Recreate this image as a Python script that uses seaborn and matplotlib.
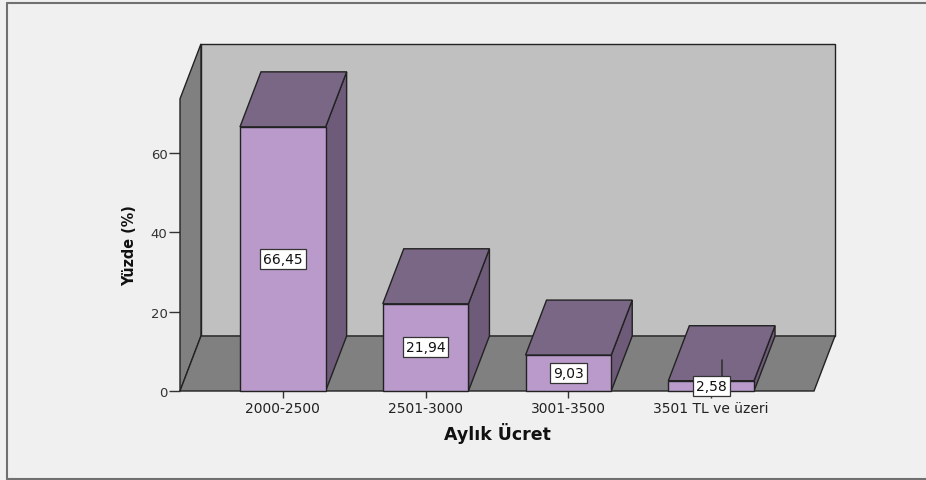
import matplotlib
matplotlib.use("Agg")
import matplotlib.pyplot as plt
from matplotlib.patches import Polygon
from matplotlib.lines import Line2D
import seaborn as sns
import pandas as pd

# Monthly wage groups and their share of respondents (%)
categories = ["2000-2500", "2501-3000", "3001-3500", "3501 TL ve üzeri"]
percentages = [66.45, 21.94, 9.03, 2.58]
value_labels = ["66,45", "21,94", "9,03", "2,58"]
y_ticks = [0, 20, 40, 60]

df = pd.DataFrame({"Aylık Ücret": categories, "Yüzde": percentages})

sns.set_theme(style="white")
plt.rcParams["font.family"] = ["DejaVu Sans"]

BG = "#f0f0f0"
FRONT = "#b99aca"
TOP = "#7a6786"
SIDE = "#6e5a79"
WALL_BACK = "#c0c0c0"
WALL_FLOOR = "#808080"
EDGE = "#222222"

fig = plt.figure(figsize=(9.26, 4.81), dpi=100, facecolor=BG)
ax = fig.add_axes([180 / 926, (481 - 392) / 481, 655 / 926, 348 / 481])
ax.set_facecolor(BG)

# pseudo-3D depth offset (data units)
ddx, ddy = 0.147, 13.84
x0, x1 = -0.72, 3.72
wall_top = 73.5

# walls and floor
back = Polygon([(x0 + ddx, ddy), (x1 + ddx, ddy), (x1 + ddx, wall_top + ddy),
                (x0 + ddx, wall_top + ddy)], closed=True, fc=WALL_BACK, ec=EDGE, lw=1.0, zorder=0.5)
left = Polygon([(x0, 0), (x0 + ddx, ddy), (x0 + ddx, wall_top + ddy), (x0, wall_top)],
               closed=True, fc=WALL_FLOOR, ec=EDGE, lw=1.0, zorder=0.6)
floor = Polygon([(x0, 0), (x1, 0), (x1 + ddx, ddy), (x0 + ddx, ddy)],
                closed=True, fc=WALL_FLOOR, ec=EDGE, lw=1.0, zorder=0.6)
for p in (back, left, floor):
    p.set_clip_on(False)
    ax.add_patch(p)

sns.barplot(data=df, x="Aylık Ücret", y="Yüzde", order=categories, color=FRONT,
            width=0.6, saturation=1, edgecolor=EDGE, linewidth=1.0, ax=ax, zorder=2)

bars = list(ax.patches)[3:]
for bar, lab in zip(bars, value_labels):
    l = bar.get_x()
    r = l + bar.get_width()
    h = bar.get_height()
    cx = (l + r) / 2
    bar.set_zorder(3)
    bar.set_clip_on(False)
    side = Polygon([(r, 0), (r + ddx, ddy), (r + ddx, h + ddy), (r, h)],
                   closed=True, fc=SIDE, ec=EDGE, lw=1.0, zorder=2.5, clip_on=False)
    top = Polygon([(l, h), (r, h), (r + ddx, h + ddy), (l + ddx, h + ddy)],
                  closed=True, fc=TOP, ec=EDGE, lw=1.0, zorder=2.6, clip_on=False)
    ax.add_patch(side)
    ax.add_patch(top)
    if h < 5:
        # short bar: leader line from the top face down to its label
        ax.plot([cx + ddx / 2, cx + ddx / 2], [h + ddy * 0.38, h / 2],
                color="#333333", lw=1.2, zorder=2.7)
    ax.text(cx, h / 2, lab, ha="center", va="center", fontsize=10,
            color="#111111", zorder=5,
            bbox=dict(boxstyle="square,pad=0.22", fc="white", ec="#333333", lw=0.9))

ax.set_xlim(x0, x1 + ddx)
ax.set_ylim(0, 87.55)

for s in ("top", "right", "bottom", "left"):
    ax.spines[s].set_visible(False)

ax.set_yticks(y_ticks)
ax.set_yticklabels([str(t) for t in y_ticks])
ax.tick_params(axis="y", left=True, length=8, width=1, color="#333333",
               labelsize=9.5, labelcolor="#333333", pad=1, direction="out")
ax.tick_params(axis="x", bottom=True, length=5, width=1, color="#333333",
               labelsize=10, labelcolor="#222222", pad=2, direction="out")

ax.set_ylabel("Yüzde (%)", fontsize=11.5, fontweight="bold", fontstretch="condensed",
              family=["DejaVu Sans"], color="#111111")
ax.yaxis.set_label_coords(-0.0656, 0.42)
ax.set_xlabel("Aylık Ücret", fontsize=12.5, fontweight="bold", color="#111111")
ax.xaxis.set_label_coords(0.484, -0.089)

# outer frame
fig.add_artist(Line2D([7 / 926, 7 / 926], [1 - 4 / 481, 1 - 479.5 / 481],
                      transform=fig.transFigure, color="#707070", lw=1.5))
fig.add_artist(Line2D([7 / 926, 1], [1 - 4 / 481, 1 - 4 / 481],
                      transform=fig.transFigure, color="#707070", lw=1.5))
fig.add_artist(Line2D([7 / 926, 1], [1 - 479.5 / 481, 1 - 479.5 / 481],
                      transform=fig.transFigure, color="#707070", lw=1.5))

fig.savefig("out.png", dpi=100, facecolor=BG)
